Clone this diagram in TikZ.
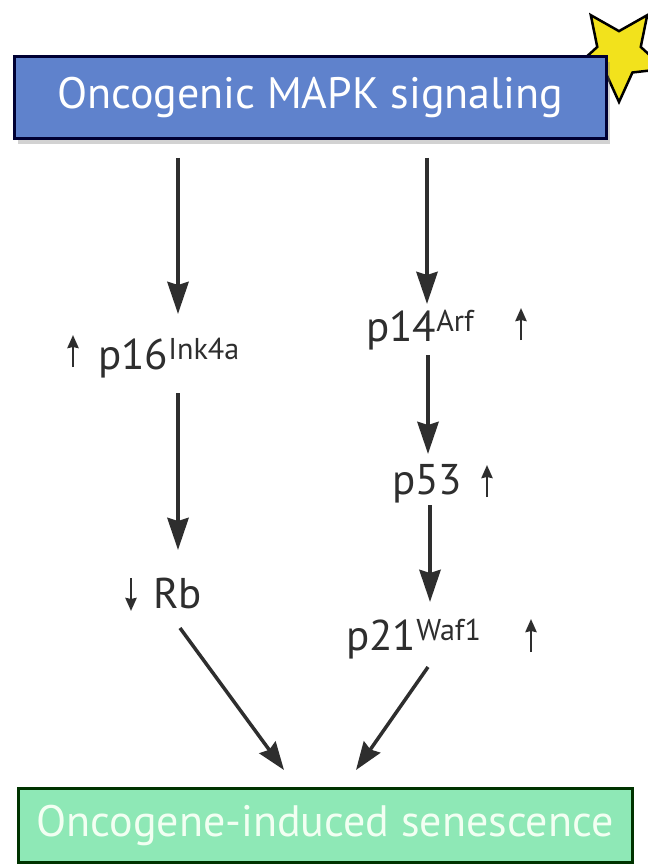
\documentclass[tikz,border=0pt]{standalone}
\usepackage{fontspec}
\setmainfont{PT Sans}
\usetikzlibrary{arrows.meta,shapes.geometric,shadows}
\definecolor{topblue}{HTML}{5F82CC}
\definecolor{boxgreen}{HTML}{8EE8B6}
\definecolor{starY}{HTML}{F2E21C}
\definecolor{ink}{HTML}{2E2E2E}
\tikzset{
  lbl/.style={font=\fontsize{43}{46}\selectfont, text=ink, inner sep=0pt},
  arr/.style={-{Stealth[length=32pt,width=21pt,inset=3pt]}, line width=4.5pt, ink},
  darr/.style={-{Stealth[length=28pt,width=20pt,inset=3pt]}, line width=3.5pt, ink},
  sarr/.style={-{Stealth[length=13pt,width=11pt,inset=1pt]}, line width=2.8pt, ink}
}
\begin{document}
\begin{tikzpicture}[x=1pt,y=-1pt]
\useasboundingbox (0,0) rectangle (647,866);
\fill[white] (0,0) rectangle (647,866);
% star
\node[star, star points=5, star point ratio=2.1, minimum size=96pt, fill=starY, draw=black, line width=2.5pt, rotate=180] (star) at (619,54) {};
% top box
\node[draw=black!80!blue, line width=3pt, fill=topblue, minimum width=592pt, minimum height=82pt, drop shadow={shadow xshift=4pt, shadow yshift=-5pt, opacity=0.35}, text=white, font=\fontsize{44}{48}\selectfont, inner sep=0pt] (top) at (310,98) {Oncogenic MAPK signaling};
% bottom box
\node[draw=black!80!green, line width=3pt, fill=boxgreen, minimum width=614pt, minimum height=74pt, text=white!95!green, font=\fontsize{44}{48}\selectfont, inner sep=0pt] (ois) at (325,825) {Oncogene-induced senescence};
% labels
\node[lbl, anchor=base west] (p16) at (98,369) {p16\textsuperscript{Ink4a}};
\node[lbl, anchor=base west] (p14) at (366,341) {p14\textsuperscript{Arf}};
\node[lbl, anchor=base west] (p53) at (392,494) {p53};
\node[lbl, anchor=base west] (rb) at (153,608) {Rb};
\node[lbl, anchor=base west] (p21) at (346,650) {p21\textsuperscript{Waf1}};
% small up/down arrows
\coordinate (u16a) at (73,367); \coordinate (u16b) at (73,335);
\draw[sarr] (u16a) -- (u16b);
\coordinate (u14a) at (521,340); \coordinate (u14b) at (521,308);
\draw[sarr] (u14a) -- (u14b);
\coordinate (u53a) at (487,497); \coordinate (u53b) at (487,465);
\draw[sarr] (u53a) -- (u53b);
\coordinate (drba) at (131,578); \coordinate (drbb) at (131,611);
\draw[sarr] (drba) -- (drbb);
\coordinate (u21a) at (531,652); \coordinate (u21b) at (531,619);
\draw[sarr] (u21a) -- (u21b);
% main arrows
\coordinate (l1) at (178,158);
\coordinate (r1) at (427,158);
\draw[arr] (l1) -- (178,314);
\draw[arr] (r1) -- (427,304);
\draw[arr] (178,393) -- (178,550);
\draw[arr] (428,355) -- (428,454);
\draw[arr] (430,505) -- (430,602);
\draw[darr] (180,628) -- (284,770);
\draw[darr] (428,667) -- (356,770);
\end{tikzpicture}
\end{document}
